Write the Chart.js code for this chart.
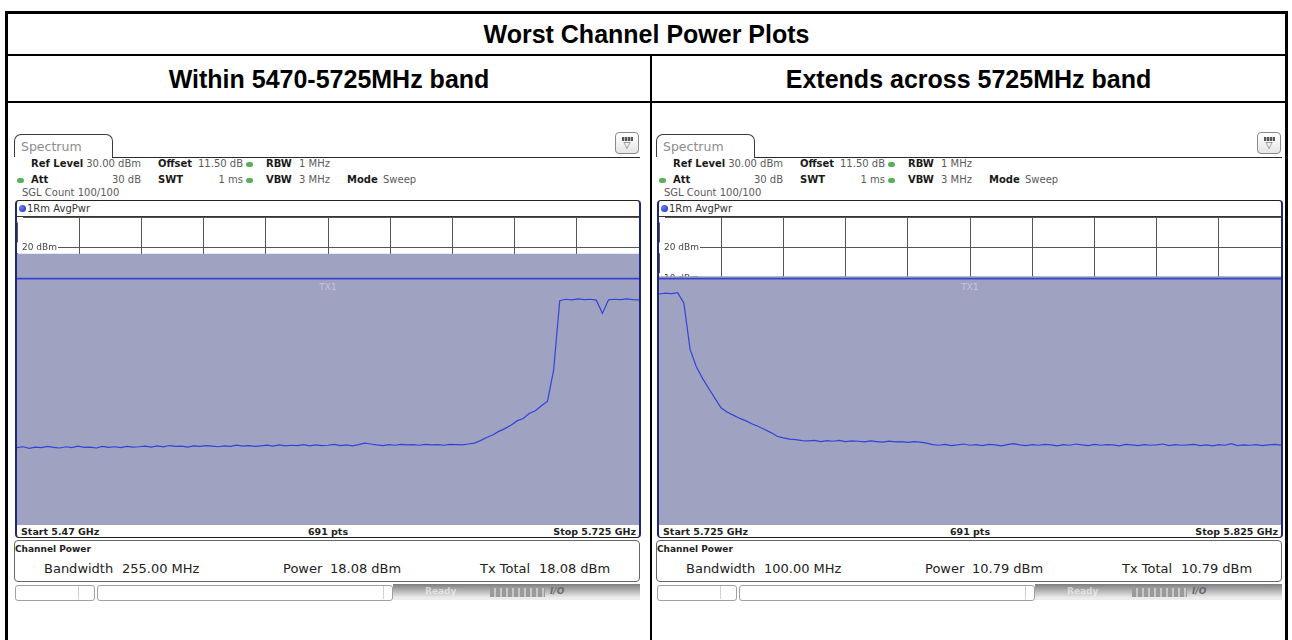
<!DOCTYPE html>
<html>
<head>
<meta charset="utf-8">
<title>Worst Channel Power Plots</title>
<script src="https://cdn.jsdelivr.net/npm/chart.js@4.4.1/dist/chart.umd.min.js"></script>
<style>
  html, body { margin: 0; padding: 0; background: #fff; }
  body { width: 1292px; height: 640px; position: relative; overflow: hidden; font-family: "DejaVu Sans", sans-serif; }
  .a { position: absolute; white-space: nowrap; }

  /* report table */
  .frame { left: 5px; top: 11px; width: 1277px; height: 700px; border: 3px solid #000; }
  .hr { left: 5px; width: 1283px; height: 2px; background: #000; }
  .vr { left: 650px; top: 55px; width: 2px; height: 600px; background: #000; }
  .cap { font-family: "Liberation Sans", Arial, sans-serif; font-weight: bold; font-size: 25px; line-height: 28px; color: #000; text-align: center; }

  /* analyzer screenshot chrome */
  .panel { top: 0; width: 650px; height: 640px; }
  .tab { left: 14px; top: 134px; width: 99px; height: 23px; box-sizing: border-box; border: 1px solid #3a3a3a; border-bottom: none;
         border-radius: 7px 7px 0 0; font-size: 12.5px; line-height: 23px; color: #8c8c8c; padding-left: 6px; }
  .tabline { left: 112px; top: 157px; width: 528px; height: 1px; background: #2a2a2a; }
  .menu { left: 615px; top: 132px; width: 24px; height: 22px; box-sizing: border-box; border: 1px solid #8a8a8a; border-radius: 4px;
          background: linear-gradient(#fff, #e6e6e6); }
  .mbar { left: 6px; top: 4px; width: 11px; height: 4px; background: repeating-linear-gradient(90deg, #555 0 2px, #bbb 2px 3px); }
  .mtri { left: 0; top: 7px; width: 22px; text-align: center; font-size: 9px; line-height: 11px; color: #555; }
  .hb { font-size: 10px; font-weight: bold; color: #1a1a1a; line-height: 12px; }
  .hv { font-size: 10px; color: #5a5a5a; line-height: 12px; }
  .dot { width: 7px; height: 5px; border-radius: 3px; background: #58b158; }
  .tbox { left: 15px; top: 200px; width: 622px; height: 336px; border: 1px solid #222; border-left: 2px solid #1e2778; border-right: 2px solid #1e2778; border-radius: 4px; }
  .tsep { left: 17px; top: 216px; width: 622px; height: 1px; background: #333; }
  .tdot { left: 19px; top: 205px; width: 7px; height: 7px; border-radius: 50%; background: radial-gradient(circle at 35% 35%, #6a7cff, #1a2bb8); }
  .ttl { left: 27px; top: 203px; font-size: 10px; line-height: 12px; color: #333; }
  .plot { left: 17px; top: 217px; width: 622px; height: 308px; }
  .tx { top: 282px; width: 40px; font-size: 9px; line-height: 11px; color: #c3c5dc; text-align: center; }
  .lab { top: 526px; font-size: 9.5px; font-weight: bold; line-height: 12px; color: #222; }
  .cbox { left: 14px; top: 540px; width: 624px; height: 40px; border: 1px solid #666; border-radius: 4px; }
  .clab { left: 15px; top: 543px; font-size: 9px; font-weight: bold; line-height: 12px; color: #222; }
  .cval { top: 561px; font-size: 13px; line-height: 16px; color: #222; }
  .sb { top: 585px; height: 14px; border: 1px solid #a0a0a0; border-radius: 3px; background: #fff; }
  .sbdiv { top: 586px; width: 1px; height: 13px; background: #d0d0d0; }
  .grad { left: 393px; top: 584px; width: 247px; height: 16px; background: linear-gradient(#7e7e7e, #ececec 85%); }
  .ready { left: 425px; top: 585px; font-size: 9px; font-weight: bold; line-height: 12px; color: rgba(255,255,255,0.55); }
  .seg { left: 490px; top: 588px; width: 55px; height: 9px; background: repeating-linear-gradient(90deg, #9a9a9a 0 4px, #c9c9c9 4px 6px); }
  .io { left: 550px; top: 585px; font-size: 9px; font-weight: bold; font-style: italic; line-height: 12px; color: #6a6a6a; }
</style>
</head>
<body>

<div class="a frame"></div>
<div class="a hr" style="top:54px"></div>
<div class="a hr" style="top:101px"></div>
<div class="a vr"></div>
<div class="a cap" style="left:8px;width:1277px;top:20px">Worst Channel Power Plots</div>
<div class="a cap" id="cap0" style="left:8px;width:642px;top:65px"></div>
<div class="a cap" id="cap1" style="left:652px;width:633px;top:65px"></div>

<div class="a panel" id="panel0" style="left:0px"></div>
<div class="a panel" id="panel1" style="left:642px"></div>

<script>
// ---------------------------------------------------------------------------
// Data read off the two R&S channel power screenshots
// ---------------------------------------------------------------------------

const refLevelDbm = 30;
const bottomLevelDbm = -70;
const displayLineDbm = 10;
const sweepPoints = 691;

const panelTitles = ["Within 5470-5725MHz band", "Extends across 5725MHz band"];
const startGHz = [5.47, 5.725];
const stopGHz = [5.725, 5.825];
const bandwidthMHz = ["255.00", "100.00"];
const channelPowerDbm = [18.08, 10.79];
const txTotalDbm = [18.08, 10.79];

// trace 1 (5470 MHz upward, one value every 2.5 MHz)
const leftStepMHz = 2.5;
const leftLevels = [
    -44.9, -44.6, -45.1, -44.7, -44.9, -44.5, -44.8, -45.0, -44.6, -44.9,
    -44.4, -44.8, -44.7, -45.0, -44.5, -44.8, -44.6, -44.9, -44.5, -44.7,
    -44.6, -44.4, -44.7, -44.3, -44.6, -44.2, -44.5, -44.4, -44.7, -44.3,
    -44.5, -44.2, -44.4, -44.6, -44.3, -44.5, -44.1, -44.4, -44.2, -44.5,
    -44.3, -44.1, -44.4, -44.0, -44.3, -44.1, -44.2, -43.9, -44.3, -44.0,
    -44.2, -44.1, -43.8, -44.2, -44.0, -44.3, -43.9, -43.4, -43.7, -44.0,
    -44.2, -43.9, -44.1, -43.8, -44.0, -43.9, -44.1, -43.8, -44.0, -43.9,
    -44.1, -43.8, -43.9, -44.0, -43.7, -43.4, -42.6, -41.6, -40.8, -39.6,
    -38.7, -37.6, -36.2, -35.4, -33.8, -32.9, -31.3, -29.8, -19.7, 2.8,
    3.3, 3.1, 3.4, 3.2, 3.3, 3.0, -1.3, 3.1, 3.3, 3.2,
    3.4, 3.2, 3.1
];

// trace 2 (5725 MHz upward, one value every 1 MHz)
const rightStepMHz = 1;
const rightLevels = [
    5.0, 5.3, 5.1, 5.4, 2.0, -13.0, -18.6, -22.4, -25.7, -28.9,
    -32.0, -33.4, -34.4, -35.4, -36.2, -37.2, -38.0, -39.0, -40.0, -41.2,
    -41.7, -42.1, -42.3, -42.6, -42.7, -42.5, -42.9, -42.6, -42.8, -42.5,
    -42.9, -42.7, -42.8, -43.0, -42.7, -42.9, -43.1, -42.8, -43.0, -42.9,
    -43.2, -42.9, -43.1, -43.4, -43.9, -44.1, -43.8, -44.2, -44.0, -43.7,
    -44.1, -43.9, -44.2, -43.8, -44.0, -44.3, -43.9, -43.6, -44.0, -44.2,
    -43.9, -44.1, -43.8, -44.0, -44.3, -43.9, -44.1, -43.7, -44.0, -44.2,
    -43.8, -44.1, -43.9, -44.0, -44.3, -43.8, -44.0, -44.2, -43.9, -44.1,
    -44.0, -43.7, -44.2, -43.9, -44.1, -44.0, -43.8, -44.2, -44.0, -44.3,
    -43.9, -44.1, -43.6, -44.2, -44.0, -44.1, -43.9, -44.2, -44.0, -43.8,
    -44.1
];

const traceSteps = [leftStepMHz, rightStepMHz];
const traceLevels = [leftLevels, rightLevels];

// instrument settings line (same on both screens)
const headerBold = [
    [31, 158, "Ref Level"], [158, 158, "Offset"], [266, 158, "RBW"],
    [31, 174, "Att"], [158, 174, "SWT"], [266, 174, "VBW"], [347, 174, "Mode"]
];
const headerValues = [
    [141, 158, "30.00 dBm", "r"], [243, 158, "11.50 dB", "r"], [299, 158, "1 MHz", "l"],
    [141, 174, "30 dB", "r"], [243, 174, "1 ms", "r"], [299, 174, "3 MHz", "l"],
    [383, 174, "Sweep", "l"], [22, 187, "SGL Count 100/100", "l"]
];
const headerDots = [[246, 162], [17, 178], [246, 178]];

// ---------------------------------------------------------------------------
// Screen chrome
// ---------------------------------------------------------------------------

function panelHtml(k) {
    let h = `
        <div class="a tab">Spectrum</div>
        <div class="a tabline"></div>
        <div class="a menu"><div class="a mbar"></div><div class="a mtri">&#9661;</div></div>`;
    headerBold.forEach(([x, y, t]) => { h += `<span class="a hb" style="left:${x}px;top:${y}px">${t}</span>`; });
    headerValues.forEach(([x, y, t, al]) => {
        h += al === "r"
            ? `<span class="a hv" style="left:${x - 120}px;width:120px;text-align:right;top:${y}px">${t}</span>`
            : `<span class="a hv" style="left:${x}px;top:${y}px">${t}</span>`;
    });
    headerDots.forEach(([x, y]) => { h += `<div class="a dot" style="left:${x}px;top:${y}px"></div>`; });
    h += `
        <div class="a tbox"></div>
        <div class="a tdot"></div>
        <span class="a ttl">1Rm AvgPwr</span>
        <div class="a plot"><canvas id="chart${k}" width="622" height="308"></canvas></div>
        <div class="a tsep"></div>
        <div class="a tx" style="left:308px">TX1</div>
        <span class="a lab" style="left:21px">Start ${startGHz[k]} GHz</span>
        <span class="a lab" style="left:268px;width:120px;text-align:center">${sweepPoints} pts</span>
        <span class="a lab" style="left:436px;width:200px;text-align:right">Stop ${stopGHz[k]} GHz</span>
        <div class="a cbox"></div>
        <span class="a clab">Channel Power</span>
        <span class="a cval" style="left:44px">Bandwidth</span>
        <span class="a cval" style="left:122px">${bandwidthMHz[k]} MHz</span>
        <span class="a cval" style="left:283px">Power</span>
        <span class="a cval" style="left:330px">${channelPowerDbm[k].toFixed(2)} dBm</span>
        <span class="a cval" style="left:480px">Tx Total</span>
        <span class="a cval" style="left:539px">${txTotalDbm[k].toFixed(2)} dBm</span>
        <div class="a sb" style="left:15px;width:78px"></div>
        <div class="a sbdiv" style="left:78px"></div>
        <div class="a sb" style="left:97px;width:294px"></div>
        <div class="a sbdiv" style="left:383px"></div>
        <div class="a grad"></div>
        <span class="a ready">Ready</span>
        <div class="a seg"></div>
        <span class="a io">I/O</span>`;
    return h;
}

// ---------------------------------------------------------------------------
// Charts
// ---------------------------------------------------------------------------

// chart area must fill the whole canvas: no room for axes or label overhang
function flushX(s) { s.height = 0; s.paddingLeft = 0; s.paddingRight = 0; s.paddingTop = 0; s.paddingBottom = 0; }
function flushY(s) { s.width = 0; s.paddingLeft = 0; s.paddingRight = 0; s.paddingTop = 0; s.paddingBottom = 0; }

function makeChart(k) {
    const f0 = startGHz[k], f1 = stopGHz[k];
    const trace = traceLevels[k].map((v, i) => ({ x: f0 + i * traceSteps[k] / 1000, y: v }));

    return new Chart(document.getElementById("chart" + k), {
        type: "line",
        data: {
            datasets: [
                { label: "1Rm AvgPwr", data: trace, borderColor: "#2f45d8", borderWidth: 1.2,
                  pointRadius: 0, tension: 0, order: 0 },
                { label: "Display line", data: [{ x: f0, y: displayLineDbm }, { x: f1, y: displayLineDbm }],
                  borderColor: "#3446d0", borderWidth: 1.6, pointRadius: 0, order: 1 },
                { label: "TX1", data: [{ x: f0, y: channelPowerDbm[k] }, { x: f1, y: channelPowerDbm[k] }],
                  borderWidth: 0, borderColor: "rgba(0,0,0,0)", backgroundColor: "#a0a2c2",
                  fill: "start", pointRadius: 0, order: 2 },
            ],
        },
        options: {
            responsive: false,
            animation: false,
            events: [],
            layout: { padding: 0 },
            plugins: { legend: { display: false }, tooltip: { enabled: false } },
            scales: {
                x: {
                    type: "linear", min: f0, max: f1,
                    afterBuildTicks: (s) => {
                        s.ticks = Array.from({ length: 11 }, (_, i) => ({ value: f0 + (f1 - f0) * i / 10 }));
                    },
                    afterFit: flushX,
                    ticks: { display: false },
                    grid: { color: "#555", lineWidth: 1, drawTicks: false },
                    border: { display: false },
                },
                y: {
                    min: bottomLevelDbm, max: refLevelDbm,
                    afterFit: flushY,
                    ticks: {
                        stepSize: 10, mirror: true, padding: 5,
                        color: "#444", font: { family: "DejaVu Sans", size: 9 },
                        showLabelBackdrop: true, backdropColor: "#fff",
                        backdropPadding: { left: 5, right: 1, top: 0, bottom: 0 },
                        callback: (v) => (v >= refLevelDbm || v <= bottomLevelDbm) ? "" : v + " dBm",
                    },
                    grid: { color: "#555", lineWidth: 1, drawTicks: false },
                    border: { display: false },
                },
            },
        },
    });
}

// ---------------------------------------------------------------------------
// Init
// ---------------------------------------------------------------------------

[0, 1].forEach((k) => {
    document.getElementById("cap" + k).textContent = panelTitles[k];
    document.getElementById("panel" + k).innerHTML = panelHtml(k);
    makeChart(k);
});
</script>
</body>
</html>
